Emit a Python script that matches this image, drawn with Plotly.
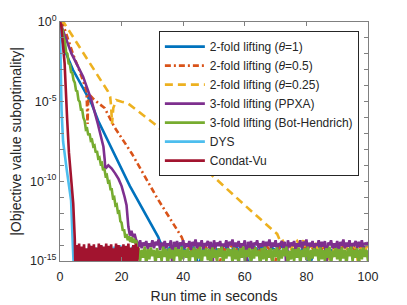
import plotly.graph_objects as go

# ---------------- data (time in s, log10 of |objective suboptimality|) ----------------
names = ["2-fold lifting (<i>θ</i>=1)", "2-fold lifting (<i>θ</i>=0.5)", "2-fold lifting (<i>θ</i>=0.25)",
         "3-fold lifting (PPXA)", "3-fold lifting (Bot-Hendrich)", "DYS", "Condat-Vu"]
colors = ["#0072BD", "#D95319", "#EDB120", "#7E2F8E", "#77AC30", "#4DBEEE", "#A2142F"]

# 2-fold lifting theta=1
blue_t = [0, 0.8, 1.5, 4.2, 10.2, 12.4, 22.7, 31.9, 32.5]
blue_v = [0, -1.2, -1.75, -3.0, -5.1, -6.2, -10.3, -13.5, -13.8]
blue_floor_t0, blue_floor_dt = 33.0, 1.5
blue_floor = [-14.0, -14.4, -14.1, -14.6, -13.95, -14.3, -14.5, -14.1, -15.4, -14.2, -14.45, -14.0, -14.3, -14.6, -14.15,
              -14.4, -14.0, -14.5, -14.25, -15.4, -14.1, -14.35, -14.0, -14.55, -14.2, -14.4, -14.05, -14.3, -14.6, -14.15,
              -14.45, -14.0, -15.4, -14.3, -14.1, -14.5, -14.2, -14.4, -14.0, -14.35, -14.6, -14.1, -14.3, -14.5, -14.2]

# 2-fold lifting theta=0.5
orange_t = [0, 1, 4.2, 6.4, 8.6, 8.8, 8.95, 9.2, 10.7, 12.5, 14.5, 17.7, 23.3, 31.4, 39.5, 40.3]
orange_v = [0, -0.15, -2.0, -3.1, -4.3, -5.5, -6.4, -4.5, -4.8, -5.1, -5.4, -6.6, -8.25, -11.0, -13.5, -13.9]
orange_floor_t0, orange_floor_dt = 41.0, 1.5
orange_floor = [-14.0, -14.3, -13.9, -14.5, -14.1, -14.35, -14.0, -15.4, -14.2, -14.45, -13.95, -14.3, -14.1, -14.5, -14.0,
                -14.25, -14.4, -13.9, -14.3, -15.4, -14.1, -14.45, -14.0, -14.35, -14.2, -14.5, -13.95, -14.3, -14.1, -14.4,
                -14.0, -15.4, -14.25, -14.45, -14.05, -14.3, -14.15, -14.5, -14.0, -14.3]

# 2-fold lifting theta=0.25
yellow_t = [0, 1.3, 15.6, 16.3, 16.6, 16.9, 17.3, 18.3, 20, 22, 30.7, 46.4, 60, 69, 70.5, 71.4]
yellow_v = [0, -0.05, -4.37, -4.7, -5.3, -6.4, -5.4, -4.9, -5.0, -5.1, -6.4, -9.1, -11.5, -13.05, -13.3, -13.7]
yellow_floor_t0, yellow_floor_dt = 72.0, 1.0
yellow_floor = [-13.6, -14.0, -13.8, -14.2, -14.0, -13.75, -14.1, -13.7, -14.3, -14.0, -14.2, -13.95, -14.4, -14.1, -14.0,
                -14.3, -15.4, -14.1, -14.2, -13.95, -14.3, -14.1, -14.4, -14.0, -14.2, -15.4, -14.1, -14.3, -14.0]

# 3-fold lifting (PPXA)
purple_t = [0, 1.3, 3.7, 7.5, 10.2, 12.3, 14.1, 14.5, 14.7, 15.2, 15.7, 16.8, 17.9, 19, 20, 21, 21.6, 22.2, 22.7, 23.2,
            23.7, 24.2, 24.6]
purple_v = [0, -0.7, -1.97, -3.43, -4.9, -6.4, -7.83, -8.6, -9.2, -9.1, -9.0, -9.2, -9.5, -9.85, -10.3, -11.0, -11.5,
            -12.85, -13.4, -13.1, -13.5, -13.3, -13.6]
purple_floor_t0, purple_floor_dt = 25.0, 0.5
purple_floor = [-13.8, -14.1, -13.7, -14.2, -13.85, -14.05, -13.75, -14.25, -13.9, -14.1,
                -13.7, -14.2, -13.8, -14.0, -13.65, -14.3, -13.85, -14.1, -13.75, -14.2,
                -13.9, -14.05, -13.7, -15.5, -13.8, -14.15, -13.75, -14.25, -13.85, -14.0,
                -13.7, -14.2, -13.9, -14.1, -13.75, -14.3, -13.8, -14.05, -13.65, -14.2,
                -13.85, -14.1, -13.7, -14.25, -13.9, -14.0, -13.75, -14.2, -13.8, -15.5,
                -13.7, -14.15, -13.85, -14.05, -13.75, -14.3, -13.9, -14.1, -13.7, -14.2,
                -13.8, -14.0, -13.65, -14.25, -13.85, -14.1, -13.75, -14.2, -13.9, -14.05,
                -13.7, -15.5, -13.8, -14.15, -13.75, -14.3, -13.85, -14.0, -13.7, -14.2,
                -13.9, -14.1, -13.75, -14.25, -13.8, -14.05, -13.65, -14.2, -13.85, -14.1,
                -13.7, -14.3, -13.9, -14.0, -13.75, -14.2, -13.8, -15.5, -13.7, -14.15,
                -13.85, -14.05, -13.75, -14.25, -13.9, -14.1, -13.7, -14.2, -13.8, -14.0,
                -13.65, -14.3, -13.85, -14.1, -13.75, -14.2, -13.9, -14.05, -13.7, -14.25,
                -13.8, -14.1, -13.75, -15.5, -13.85, -14.0, -13.7, -14.2, -13.9, -14.15,
                -13.75, -14.3, -13.8, -14.05, -13.65, -14.2, -13.85, -14.1, -13.7, -14.25,
                -13.9, -14.0, -13.75, -14.2, -13.8, -14.1, -13.7, -14.3, -13.85, -14.05, -13.8]

# 3-fold lifting (Bot-Hendrich)
green_t = [0, 0.4, 0.8, 1.2, 1.6, 2.0, 2.4, 2.8, 3.2, 3.6, 4.0, 4.4, 4.8, 5.2, 5.6, 6.0, 6.4, 6.8, 7.2, 7.6, 8.0, 8.4,
           8.8, 9.2, 9.6, 10.0, 10.4, 10.8, 11.2, 11.6, 12.0, 12.4, 12.8, 13.2, 13.6, 14.0, 14.4, 14.8, 15.2, 15.6,
           16.0, 16.4, 16.8, 17.2, 17.6, 18.0, 18.4, 18.8, 19.2, 19.6, 20.0, 20.4, 20.8, 21.2, 21.6, 22.0, 22.4, 22.8,
           23.2, 23.6, 24.0, 24.4, 24.8, 25.2]
green_v = [0, -0.3, -0.5, -1.0, -1.25, -1.9, -2.0, -2.6, -2.65, -3.15, -3.2, -3.65, -3.8, -4.3, -4.35, -4.9, -5.0,
           -5.5, -5.5, -6.0, -6.2, -6.75, -6.7, -7.1, -7.0, -7.45, -7.4, -7.8, -7.75, -8.2, -8.1, -8.55, -8.5, -8.9,
           -8.85, -9.3, -9.2, -9.65, -9.6, -10.05, -10.0, -10.5, -10.5, -11.05, -11.0, -11.5, -11.45, -11.95, -11.9,
           -12.5, -12.6, -13.1, -13.0, -13.55, -13.3, -13.7, -13.45, -13.8, -13.5, -13.85, -13.6, -13.9, -13.7, -14.9]
green_floor_t0, green_floor_dt = 25.5, 0.5
green_floor = [-14.2, -15.0, -14.3, -14.8, -14.1, -15.3, -14.25, -14.9, -14.15, -14.7,
               -14.3, -15.2, -14.2, -14.8, -14.35, -15.0, -14.1, -14.75, -14.25, -15.4,
               -14.2, -14.85, -14.3, -15.0, -14.15, -14.7, -14.25, -15.2, -14.1, -14.9,
               -14.3, -14.8, -14.2, -15.3, -14.35, -14.75, -14.15, -15.0, -14.25, -14.85,
               -14.1, -15.2, -14.3, -14.7, -14.2, -14.95, -14.25, -15.4, -14.15, -14.8,
               -14.3, -15.0, -14.2, -14.75, -14.1, -15.25, -14.35, -14.85, -14.2, -14.7,
               -14.25, -15.1, -14.15, -14.9, -14.3, -15.3, -14.2, -14.8, -14.1, -15.0,
               -14.3, -14.75, -14.2, -15.2, -14.25, -14.85, -14.15, -14.7, -14.35, -15.4,
               -14.2, -14.9, -14.1, -15.0, -14.3, -14.8, -14.2, -15.25, -14.25, -14.75,
               -14.15, -15.1, -14.3, -14.85, -14.2, -14.7, -14.1, -15.3, -14.35, -14.9,
               -14.2, -15.0, -14.25, -14.8, -14.15, -15.2, -14.3, -14.75, -14.2, -14.95,
               -14.1, -15.35, -14.3, -14.85, -14.2, -14.7, -14.25, -15.1, -14.15, -14.9,
               -14.3, -15.0, -14.2, -14.8, -14.1, -15.25, -14.35, -14.75, -14.2, -14.9,
               -14.25, -15.1, -14.15, -14.85, -14.3, -15.3, -14.2, -14.7, -14.1, -15.0,
               -14.3, -14.8, -14.2, -15.2, -14.25, -14.9, -14.15, -14.75, -14.3, -15.0]

# DYS
cyan_t = [0, 0.15, 0.5, 1.0, 2.2, 3.6, 4.2]
cyan_v = [0, -2.0, -5.5, -7.5, -9.3, -11.2, -14.2]
cyan_floor_t0, cyan_floor_dt = 4.5, 1.0
cyan_floor = [-15.5, -14.1, -15.4, -14.2, -15.5, -14.0, -15.3, -14.15, -15.5, -14.05, -15.4, -14.2, -15.5, -14.1, -15.3,
              -14.0, -15.5, -14.2, -15.4, -14.1, -15.5]

# Condat-Vu
red_t = [0, 0.4, 1.5, 2.3, 2.9, 4.3, 4.8]
red_v = [0, -0.2, -2.6, -6.0, -8.2, -11.4, -13.6]
red_floor_t0, red_floor_dt = 5.0, 0.4
red_floor = [-15.5, -14.0, -15.3, -13.9, -15.5, -14.1, -15.4, -13.95, -15.3, -14.2,
             -15.5, -13.9, -15.4, -14.05, -15.3, -13.95, -15.5, -14.15, -15.4, -13.9,
             -15.3, -14.0, -15.5, -14.1, -15.4, -13.9, -15.3, -14.05, -15.5, -13.95,
             -15.4, -14.2, -15.3, -13.9, -15.5, -14.0, -15.4, -14.1, -15.3, -13.95,
             -15.5, -14.05, -15.4, -13.9, -15.3, -14.15, -15.5, -14.0, -15.4, -13.9,
             -15.3, -14.1]

xticks = [0, 20, 40, 60, 80, 100]
ylabel_decades = [-15, -10, -5, 0]
yminor_decades = [d for d in range(-15, 1) if d not in ylabel_decades]

# ---------------- assemble ----------------
series = [
    (blue_t, blue_v, blue_floor_t0, blue_floor_dt, blue_floor),
    (orange_t, orange_v, orange_floor_t0, orange_floor_dt, orange_floor),
    (yellow_t, yellow_v, yellow_floor_t0, yellow_floor_dt, yellow_floor),
    (purple_t, purple_v, purple_floor_t0, purple_floor_dt, purple_floor),
    (green_t, green_v, green_floor_t0, green_floor_dt, green_floor),
    (cyan_t, cyan_v, cyan_floor_t0, cyan_floor_dt, cyan_floor),
    (red_t, red_v, red_floor_t0, red_floor_dt, red_floor),
]
dashes = ["solid", "6px,3px,2px,3px", "8px,5px", "solid", "solid", "solid", "solid"]

fig = go.Figure()
for (t, v, f0, fdt, fv), name, col, dash in zip(series, names, colors, dashes):
    tt = list(t) + [f0 + i * fdt for i in range(len(fv))]
    vv = list(v) + list(fv)
    fig.add_trace(go.Scatter(
        x=tt, y=[10 ** e for e in vv], mode="lines", name=name,
        line=dict(color=col, width=2.6, dash=dash, simplify=False),
    ))

font_family = "Liberation Sans, Arial, sans-serif"
axis_col = "#808080"
# the page body adds an 8px margin, so the figure is 8px smaller than the window
fig.update_layout(
    width=399, height=297,
    margin=dict(l=52, r=39, t=14, b=44, autoexpand=False),
    paper_bgcolor="white", plot_bgcolor="white",
    font=dict(family=font_family, color="#262626", size=12.5),
    showlegend=True,
    legend=dict(
        x=0.321, y=0.962, xanchor="left", yanchor="top",
        bgcolor="white", bordercolor="#262626", borderwidth=1,
        font=dict(size=12, color="#262626", family=font_family),
        itemwidth=40, tracegroupgap=0,
    ),
)
fig.update_xaxes(
    range=[0, 100], tickvals=xticks, ticktext=[str(x) for x in xticks],
    ticks="inside", ticklen=4, tickcolor=axis_col, showline=True, linecolor=axis_col, linewidth=1,
    mirror="allticks", showgrid=False, zeroline=False, automargin=False, ticklabelstandoff=4,
    tickfont=dict(size=12.5, color="#262626"),
    title=dict(text="Run time in seconds", font=dict(size=14, color="#262626"), standoff=8),
)
fig.update_yaxes(
    type="log", range=[-15, 0],
    tickvals=[10.0 ** d for d in ylabel_decades],
    ticktext=["10<sup>%d</sup>" % d for d in ylabel_decades],
    minor=dict(tickvals=[10.0 ** d for d in yminor_decades], ticks="inside", ticklen=4, tickcolor=axis_col,
               showgrid=False),
    ticks="inside", ticklen=4, tickcolor=axis_col, showline=True, linecolor=axis_col, linewidth=1,
    mirror="allticks", showgrid=False, zeroline=False, automargin=False,
    tickfont=dict(size=12.5, color="#262626"),
    title=dict(text="|Objective value suboptimality|", font=dict(size=14, color="#262626"), standoff=6),
)
fig.write_html("out.html")
